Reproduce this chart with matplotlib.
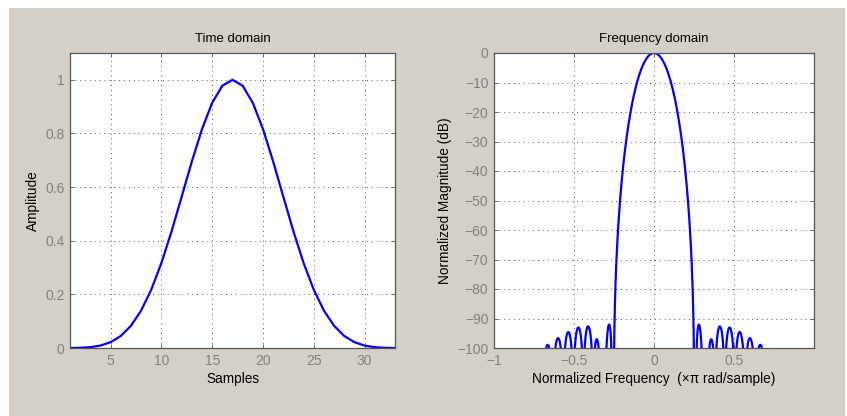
import numpy as np
import matplotlib
matplotlib.use("Agg")
import matplotlib.pyplot as plt
from matplotlib.patches import Rectangle

# Window samples (33-point)
samples = list(range(1, 34))
amplitude = [0.00006, 0.000657, 0.003059, 0.009096, 0.021736, 0.044861, 0.082781,
             0.139453, 0.21747, 0.316996, 0.43492, 0.564508, 0.695764, 0.816535,
             0.914241, 0.977895, 1.0,
             0.977895, 0.914241, 0.816535, 0.695764, 0.564508, 0.43492, 0.316996,
             0.21747, 0.139453, 0.082781, 0.044861, 0.021736, 0.009096, 0.003059,
             0.000657, 0.00006]

time_xticks = [5, 10, 15, 20, 25, 30]
time_yticks = [0, 0.2, 0.4, 0.6, 0.8, 1]
freq_xticks = [-1, -0.5, 0, 0.5]
freq_yticks = [0, -10, -20, -30, -40, -50, -60, -70, -80, -90, -100]

# Frequency response of the window samples
nfft = 8192
spec = np.fft.fftshift(np.abs(np.fft.fft(amplitude, nfft)))
freq = np.fft.fftshift(np.fft.fftfreq(nfft)) * 2
mag_db = 20 * np.log10(np.maximum(spec / spec.max(), 1e-12))

plt.rcParams['font.family'] = ['Liberation Sans', 'DejaVu Sans']

W, H = 847, 416
fig = plt.figure(figsize=(W / 100, H / 100), dpi=100, facecolor='white')
fig.patches.append(Rectangle((9 / W, 0), (845 - 9) / W, (H - 8) / H,
                             transform=fig.transFigure, facecolor='#d4d0c8',
                             edgecolor='none', zorder=-10))

def px_axes(x0, x1, y0, y1):
    return fig.add_axes([x0 / W, 1 - y1 / H, (x1 - x0) / W, (y1 - y0) / H])

ax1 = px_axes(70, 395, 53, 348)
ax2 = px_axes(494, 814, 53, 348)

blue = '#0000ff'
ax1.plot(samples, amplitude, color=blue, lw=1.6)
ax1.set_xlim(1, 33)
ax1.set_ylim(0, 1.1)
ax1.set_xticks(time_xticks)
ax1.set_yticks(time_yticks)
ax1.set_yticklabels(['0', '0.2', '0.4', '0.6', '0.8', '1'])
ax1.set_title('Time domain', fontsize=9.5, pad=8)
ax1.set_xlabel('Samples', fontsize=9.8, labelpad=3)
ax1.set_ylabel('Amplitude', fontsize=9.8, labelpad=4)

ax2.plot(freq, mag_db, color=blue, lw=1.6)
ax2.set_xlim(-1, 1)
ax2.set_ylim(-100, 0)
ax2.set_xticks(freq_xticks)
ax2.set_xticklabels(['\u22121', '\u22120.5', '0', '0.5'])
ax2.set_yticks(freq_yticks)
ax2.set_yticklabels(['0'] + ['\u2212%d' % (-v) for v in freq_yticks[1:]])
ax2.set_title('Frequency domain', fontsize=9.5, pad=8)
ax2.set_xlabel('Normalized Frequency  (\u00d7\u03c0 rad/sample)', fontsize=9.8, labelpad=3)
ax2.set_ylabel('Normalized Magnitude (dB)', fontsize=9.8, labelpad=4)

for ax in (ax1, ax2):
    ax.set_facecolor('white')
    ax.grid(True, color='#555555', linestyle=(0, (1, 4)), linewidth=0.7)
    ax.set_axisbelow(True)
    ax.tick_params(direction='in', length=3, width=0.6, colors='#555555',
                   labelcolor='#808080', labelsize=10, top=True, right=True, pad=4)
    for s in ax.spines.values():
        s.set_color('#555555')
        s.set_linewidth(0.9)

fig.savefig('out.png', dpi=100, facecolor=fig.get_facecolor())
